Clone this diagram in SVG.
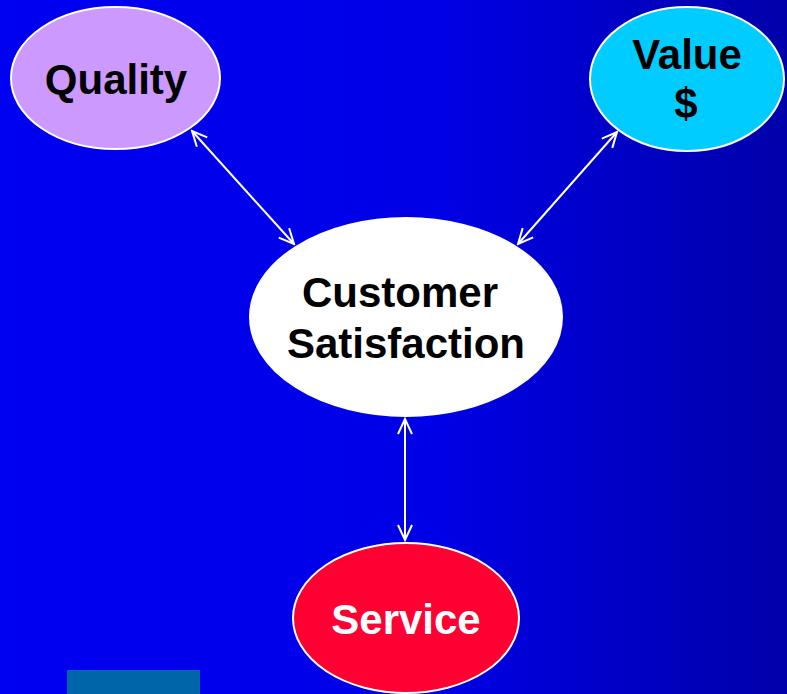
<svg xmlns="http://www.w3.org/2000/svg" width="787" height="694" viewBox="0 0 787 694">
<defs>
<linearGradient id="bg" x1="0" y1="0" x2="1" y2="0">
<stop offset="0" stop-color="#0000F2"/>
<stop offset="0.55" stop-color="#0000E6"/>
<stop offset="1" stop-color="#0000AA"/>
</linearGradient>
<marker id="ah" viewBox="0 0 20 20" refX="18" refY="10" markerWidth="20" markerHeight="20" markerUnits="userSpaceOnUse" orient="auto-start-reverse">
<path d="M3,3 L18,10 L3,17" fill="none" stroke="#fff" stroke-width="2"/>
</marker>
<style>
.n{stroke:#fff;stroke-width:2}
.t{font-family:"Liberation Sans",Arial,sans-serif;font-weight:bold;font-size:42px;text-anchor:middle}
.c line{stroke:#fff;stroke-width:2;marker-start:url(#ah);marker-end:url(#ah)}
</style>
</defs>
<rect width="787" height="694" fill="url(#bg)"/>
<rect x="67" y="670" width="133" height="24" fill="#0066AA"/>
<g class="c" id="connectors">
<line x1="192" y1="131" x2="294" y2="244"/>
<line x1="617" y1="132" x2="518" y2="244"/>
<line x1="405" y1="419" x2="405" y2="540"/>
</g>
<g id="quality">
<ellipse class="n" cx="115.5" cy="78" rx="104.5" ry="71" fill="#CC99FF"/>
<text class="t" x="116" y="94" fill="#000">Quality</text>
</g>
<g id="value">
<ellipse class="n" cx="687" cy="79" rx="97" ry="72" fill="#00CCFF"/>
<text class="t" x="687" y="69" fill="#000">Value</text>
<text class="t" x="686" y="118" fill="#000">$</text>
</g>
<g id="customer">
<ellipse class="n" cx="406" cy="317" rx="156" ry="99" fill="#fff"/>
<text class="t" x="400" y="307" fill="#000">Customer</text>
<text class="t" x="406" y="358" fill="#000">Satisfaction</text>
</g>
<g id="service">
<ellipse class="n" cx="406" cy="618" rx="113" ry="75" fill="#FF0033"/>
<text class="t" x="406" y="634" fill="#fff">Service</text>
</g>
</svg>
